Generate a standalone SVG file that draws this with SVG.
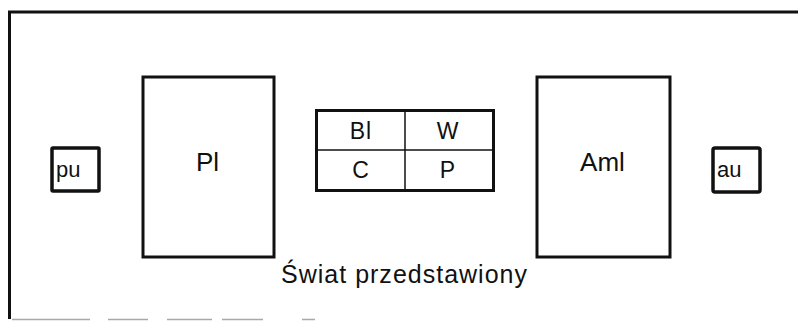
<svg xmlns="http://www.w3.org/2000/svg" width="798" height="321" viewBox="0 0 798 321">
  <style>
    .box { fill: #ffffff; stroke: #111111; stroke-width: 3; }
    .sbox { fill: #ffffff; stroke: #111111; stroke-width: 3.5; }
    .thin { stroke: #111111; stroke-width: 1.5; fill: none; }
    .frame { stroke: #111111; stroke-width: 3; fill: none; }
    .dash { stroke: #a8a8a8; stroke-width: 1.5; fill: none; }
    text { font-family: "Liberation Sans", Arial, Helvetica, sans-serif; fill: #111111; }
    .big { font-size: 26px; text-anchor: middle; }
    .cell { font-size: 23px; text-anchor: middle; letter-spacing: 1px; }
    .small { font-size: 22px; }
    .title { font-size: 25px; text-anchor: middle; }
  </style>
  <rect width="798" height="321" fill="#ffffff"/>
  <g id="frame">
    <polyline class="frame" points="9.5,319 9.5,12 798,12"/>
    <path class="dash" d="M12 319.5 H90 M108 319.5 H148 M167 319.5 H212 M222 319.5 H263 M302 319.5 H315"/>
  </g>
  <g id="pu">
    <rect class="sbox" x="52" y="148" width="47" height="43" rx="1"/>
    <text class="small" x="56" y="177">pu</text>
  </g>
  <g id="Pl">
    <rect class="box" x="143" y="77" width="131" height="180"/>
    <text class="big" x="207.5" y="171">Pl</text>
  </g>
  <g id="grid">
    <rect class="box" x="316.5" y="110.5" width="177" height="80"/>
    <line class="thin" x1="405" y1="110.5" x2="405" y2="190.5"/>
    <line class="thin" x1="316.5" y1="150" x2="493.5" y2="150"/>
    <text class="cell" x="361" y="138.5">Bl</text>
    <text class="cell" x="448" y="138.5">W</text>
    <text class="cell" x="361" y="177.5">C</text>
    <text class="cell" x="448" y="177.5">P</text>
  </g>
  <g id="Aml">
    <rect class="box" x="537" y="77" width="133" height="180"/>
    <text class="big" x="602.5" y="171">Aml</text>
  </g>
  <g id="au">
    <rect class="sbox" x="713" y="148" width="47" height="44" rx="2"/>
    <text class="small" x="717" y="177">au</text>
  </g>
  <g id="connectors"></g>
  <text class="title" x="404" y="283" textLength="246" lengthAdjust="spacing">Świat przedstawiony</text>
</svg>
